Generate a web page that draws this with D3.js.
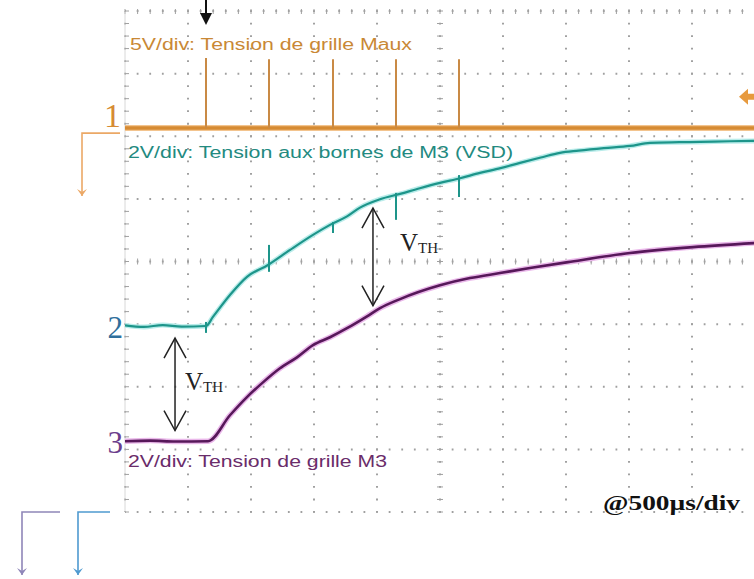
<!DOCTYPE html>
<html><head><meta charset="utf-8">
<script src="https://cdn.jsdelivr.net/npm/d3@7"></script>
<style>html,body{margin:0;padding:0;background:#fff;} svg{display:block;}</style>
</head><body><svg id="c" width="754" height="579"></svg>
<script>
// ---------- DATA ----------
const timeTicksUs = [0,500,1000,1500,2000,2500,3000,3500,4000,4500,5000];
const voltDivTicks = [-4,-3,-2,-1,0,1,2,3,4];
const channelNames = ["1","2","3"];
const channelVoltsPerDiv = [5, 2, 2];
const channelOffsetDiv = [2.13, -1.03, -2.87];
const channelLabels = [
  "5V/div: Tension de grille Maux",
  "2V/div: Tension aux bornes de M3 (VSD)",
  "2V/div: Tension de grille M3"
];
const timebaseLabel = "@500µs/div";

// Channel 1: gate pulses of Maux (baseline 0 V + short spikes)
const ch1Times = [0, 5000];
const ch1Volts = [0, 0];
const ch1SpikeTimes = [643, 1143, 1651, 2151, 2651];
const ch1SpikeVolts = [5.6, 5.5, 5.5, 5.5, 5.5];

// Channel 2: VSD of M3
const ch2Times = [0,150,300,450,643,698,833,968,1135,1310,1492,1627,1762,1865,2024,2183,2340,2500,2660,2817,2980,3135,3300,3452,3600,3800,4008,4167,4400,4563,4800,5000];
const ch2Volts = [0.02,-0.03,0.03,-0.02,0.0,0.29,0.99,1.57,1.95,2.43,2.91,3.23,3.50,3.78,4.05,4.22,4.40,4.57,4.72,4.89,5.04,5.21,5.38,5.53,5.60,5.68,5.75,5.85,5.87,5.88,5.90,5.91];
// Channel 2 glitches coinciding with Maux pulses: [time, top V, bottom V]
const ch2GlitchTimes = [643, 1143, 1651, 2151, 2651];
const ch2GlitchTop = [0.13, 2.59, 3.32, 4.25, 4.82];
const ch2GlitchBottom = [-0.22, 1.73, 2.97, 3.39, 4.12];

// Channel 3: gate voltage of M3
const ch3Times = [0,200,400,659,833,968,1095,1230,1365,1492,1627,1762,1921,2024,2183,2500,2738,2976,3214,3516,4008,4508,5000];
const ch3Volts = [0,0.02,-0.01,0,0.83,1.41,1.88,2.33,2.68,3.07,3.32,3.61,3.99,4.25,4.54,4.98,5.21,5.37,5.53,5.72,6.01,6.20,6.33];

// VTH annotations (time in µs where the double arrow is drawn)
const vthTimes = [397, 1968];

const triggerTimeUs = 643;
const triggerLevelCh1 = 2.5;

// ---------- SCALES ----------
const svg = d3.select("#c");
const x = d3.scaleLinear().domain([0, 5000]).range([125, 755]);
const yDiv = d3.scaleLinear().domain([-4, 4]).range([512, 11]);
const chY = i => v => yDiv(channelOffsetDiv[i] + v / channelVoltsPerDiv[i]);
const y1 = chY(0), y2 = chY(1), y3 = chY(2);

const colors = {
  orange: "#d68b33", orangeText: "#c98835", orangeLight:"#eba866",
  teal: "#1d958a", tealHalo: "#b9ecea", tealText: "#238a80",
  purple: "#57185a", purpleHalo: "#eab8ea", purpleText: "#6a2c6a",
  grid: "#a0a0a0"
};

// ---------- GRID ----------
const g = svg.append("g");
const minorStepX = (x(500) - x(0)) / 5;
const minorStepY = (yDiv(0) - yDiv(1)) / 5;

g.selectAll(".vg").data(timeTicksUs).join("line")
  .attr("x1", d => x(d)).attr("x2", d => x(d))
  .attr("y1", yDiv(4)).attr("y2", yDiv(-4))
  .attr("stroke", colors.grid).attr("stroke-width", 2)
  .attr("stroke-dasharray", `1.8 ${minorStepY - 1.8}`).attr("stroke-dashoffset", 0.9);
g.selectAll(".hg").data(voltDivTicks).join("line")
  .attr("x1", x(0)).attr("x2", x(5000))
  .attr("y1", d => yDiv(d)).attr("y2", d => yDiv(d))
  .attr("stroke", colors.grid).attr("stroke-width", 2)
  .attr("stroke-dasharray", `1.8 ${minorStepX - 1.8}`).attr("stroke-dashoffset", 0.9);

// minor ticks: centre axes, left edge, top edge
const minorT = d3.range(0, 5000.1, 100);
const minorV = d3.range(-4, 4.01, 0.2);
g.selectAll(".ct").data(minorT).join("line")
  .attr("x1", d => x(d)).attr("x2", d => x(d))
  .attr("y1", yDiv(0) - 3).attr("y2", yDiv(0) + 3)
  .attr("stroke", colors.grid).attr("stroke-width", 1);
g.selectAll(".tt").data(minorT).join("line")
  .attr("x1", d => x(d)).attr("x2", d => x(d))
  .attr("y1", yDiv(4) - 2).attr("y2", yDiv(4) + 3)
  .attr("stroke", colors.grid).attr("stroke-width", 1);
g.selectAll(".cv").data(minorV).join("line")
  .attr("x1", x(2500) - 3).attr("x2", x(2500) + 3)
  .attr("y1", d => yDiv(d)).attr("y2", d => yDiv(d))
  .attr("stroke", colors.grid).attr("stroke-width", 1);
g.append("line").attr("x1", x(0)).attr("x2", x(0)).attr("y1", yDiv(4)).attr("y2", yDiv(-4))
  .attr("stroke", "#d8d8d8").attr("stroke-width", 1);
g.selectAll(".lv").data(minorV).join("line")
  .attr("x1", x(0)).attr("x2", x(0) + 4)
  .attr("y1", d => yDiv(d)).attr("y2", d => yDiv(d))
  .attr("stroke", colors.grid).attr("stroke-width", 1);

// ---------- LABELS (channel text) ----------
const lblFont = "'Liberation Sans', Arial, sans-serif";
svg.append("text").attr("x", x(0) + 5).attr("y", y1(0) - 78)
  .attr("font-family", lblFont).attr("font-size", 16).attr("fill", colors.orangeText)
  .attr("textLength", 282).attr("lengthAdjust", "spacingAndGlyphs").text(channelLabels[0]);
svg.append("text").attr("x", x(0) + 3).attr("y", y1(0) + 30)
  .attr("font-family", lblFont).attr("font-size", 16).attr("fill", colors.tealText)
  .attr("textLength", 385).attr("lengthAdjust", "spacingAndGlyphs").text(channelLabels[1]);
svg.append("text").attr("x", x(0) + 3).attr("y", y3(0) + 26)
  .attr("font-family", lblFont).attr("font-size", 16).attr("fill", colors.purpleText)
  .attr("textLength", 259).attr("lengthAdjust", "spacingAndGlyphs").text(channelLabels[2]);

// ---------- TRACES ----------
const line = d3.line().x(d => x(d[0])).y(d => d[1]).curve(d3.curveMonotoneX);

// Channel 1
const ch1Pts = ch1Times.map((t, i) => [t, y1(ch1Volts[i])]);
svg.append("path").attr("d", line(ch1Pts)).attr("fill", "none")
  .attr("stroke", "#f3c48e").attr("stroke-width", 6);
svg.append("path").attr("d", line(ch1Pts)).attr("fill", "none")
  .attr("stroke", colors.orange).attr("stroke-width", 3.5);
svg.selectAll(".sp").data(ch1SpikeTimes).join("line")
  .attr("x1", d => x(d)).attr("x2", d => x(d))
  .attr("y1", y1(0)).attr("y2", (d, i) => y1(ch1SpikeVolts[i]))
  .attr("stroke", "#c98a45").attr("stroke-width", 2);

// Channel 2
const ch2Pts = ch2Times.map((t, i) => [t, y2(ch2Volts[i])]);
svg.append("path").attr("d", line(ch2Pts)).attr("fill", "none")
  .attr("stroke", colors.tealHalo).attr("stroke-width", 5).attr("stroke-linejoin", "round");
svg.append("path").attr("d", line(ch2Pts)).attr("fill", "none")
  .attr("stroke", colors.teal).attr("stroke-width", 2.2).attr("stroke-linejoin", "round");
svg.selectAll(".gl").data(ch2GlitchTimes).join("line")
  .attr("x1", d => x(d)).attr("x2", d => x(d))
  .attr("y1", (d, i) => y2(ch2GlitchTop[i])).attr("y2", (d, i) => y2(ch2GlitchBottom[i]))
  .attr("stroke", colors.teal).attr("stroke-width", 2);

// Channel 3
const ch3Pts = ch3Times.map((t, i) => [t, y3(ch3Volts[i])]);
svg.append("path").attr("d", line(ch3Pts)).attr("fill", "none")
  .attr("stroke", colors.purpleHalo).attr("stroke-width", 5.5).attr("stroke-linejoin", "round");
svg.append("path").attr("d", line(ch3Pts)).attr("fill", "none")
  .attr("stroke", colors.purple).attr("stroke-width", 2.6).attr("stroke-linejoin", "round");

// ---------- CHANNEL MARKERS ----------
const serif = "'Liberation Serif', 'Times New Roman', serif";
svg.append("text").attr("x", x(0) - 4).attr("y", y1(0) - 1).attr("text-anchor", "end")
  .attr("font-family", serif).attr("font-size", 34).attr("fill", colors.orange).text(channelNames[0]);
svg.append("text").attr("x", x(0) - 2).attr("y", y2(0) + 12).attr("text-anchor", "end")
  .attr("font-family", serif).attr("font-size", 31).attr("fill", "#2f6f9c").text(channelNames[1]);
svg.append("text").attr("x", x(0) - 2).attr("y", y3(0) + 12).attr("text-anchor", "end")
  .attr("font-family", serif).attr("font-size", 31).attr("fill", "#6b3d8c").text(channelNames[2]);

// off-screen / reference arrows on the left
function elbowArrow(x0, x1, yTop, yBot, col) {
  svg.append("path").attr("d", `M${x1},${yTop}H${x0}V${yBot}`)
    .attr("fill", "none").attr("stroke", col).attr("stroke-width", 1.6);
  svg.append("path").attr("d", `M${x0-5},${yBot-7}L${x0},${yBot}L${x0+5},${yBot-7}L${x0},${yBot-4}Z`)
    .attr("fill", col);
}
elbowArrow(82, 120, y1(0) + 5, 196, colors.orangeLight);
elbowArrow(22, 60, yDiv(-4), 575, "#8f86b8");
elbowArrow(78, 110, yDiv(-4), 575, "#4f9ad0");

// trigger time arrow (top) and trigger level marker (right)
const tx = x(triggerTimeUs);
svg.append("line").attr("x1", tx).attr("x2", tx).attr("y1", 0).attr("y2", 15)
  .attr("stroke", "#111").attr("stroke-width", 2);
svg.append("path").attr("d", `M${tx-6},13L${tx+6},13L${tx},25Z`).attr("fill", "#111");
const ty = y1(triggerLevelCh1);
svg.append("path").attr("d", `M739,${ty}L748,${ty-8}L748,${ty-3}L754,${ty-3}L754,${ty+3}L748,${ty+3}L748,${ty+8}Z`)
  .attr("fill", "#e79a3e");

// ---------- VTH annotations ----------
function interp(ts, vs, t) {
  return d3.scaleLinear().domain(ts).range(vs).clamp(true)(t);
}
const vthCfg = [
  { top: y2(interp(ch2Times, ch2Volts, vthTimes[0])) + 12, bot: y3(interp(ch3Times, ch3Volts, vthTimes[0])) - 11, lx: 10, ly: 6 },
  { top: y2(interp(ch2Times, ch2Volts, vthTimes[1])) + 6, bot: y3(interp(ch3Times, ch3Volts, vthTimes[1])) - 7, lx: 27, ly: -6 }
];
vthTimes.forEach((t, i) => {
  const ax = x(t), c = vthCfg[i];
  svg.append("line").attr("x1", ax).attr("x2", ax).attr("y1", c.top).attr("y2", c.bot)
    .attr("stroke", "#222").attr("stroke-width", 1.5);
  svg.append("path").attr("d", `M${ax-11},${c.top+20}L${ax},${c.top}L${ax+11},${c.top+20}`)
    .attr("fill", "none").attr("stroke", "#222").attr("stroke-width", 1.5);
  svg.append("path").attr("d", `M${ax-11},${c.bot-20}L${ax},${c.bot}L${ax+11},${c.bot-20}`)
    .attr("fill", "none").attr("stroke", "#222").attr("stroke-width", 1.5);
  const tt = svg.append("text").attr("x", ax + c.lx).attr("y", (c.top + c.bot) / 2 + c.ly)
    .attr("font-family", serif).attr("fill", "#222");
  tt.append("tspan").attr("font-size", 25).text("V");
  tt.append("tspan").attr("font-size", 15).attr("dy", 2).text("TH");
});

// ---------- TIMEBASE ----------
svg.append("text").attr("x", 740).attr("y", yDiv(-4) - 2).attr("text-anchor", "end")
  .attr("font-family", serif).attr("font-weight", "bold").attr("font-size", 22)
  .attr("fill", "#111").attr("textLength", 137).attr("lengthAdjust", "spacingAndGlyphs")
  .text(timebaseLabel);
</script></body></html>
